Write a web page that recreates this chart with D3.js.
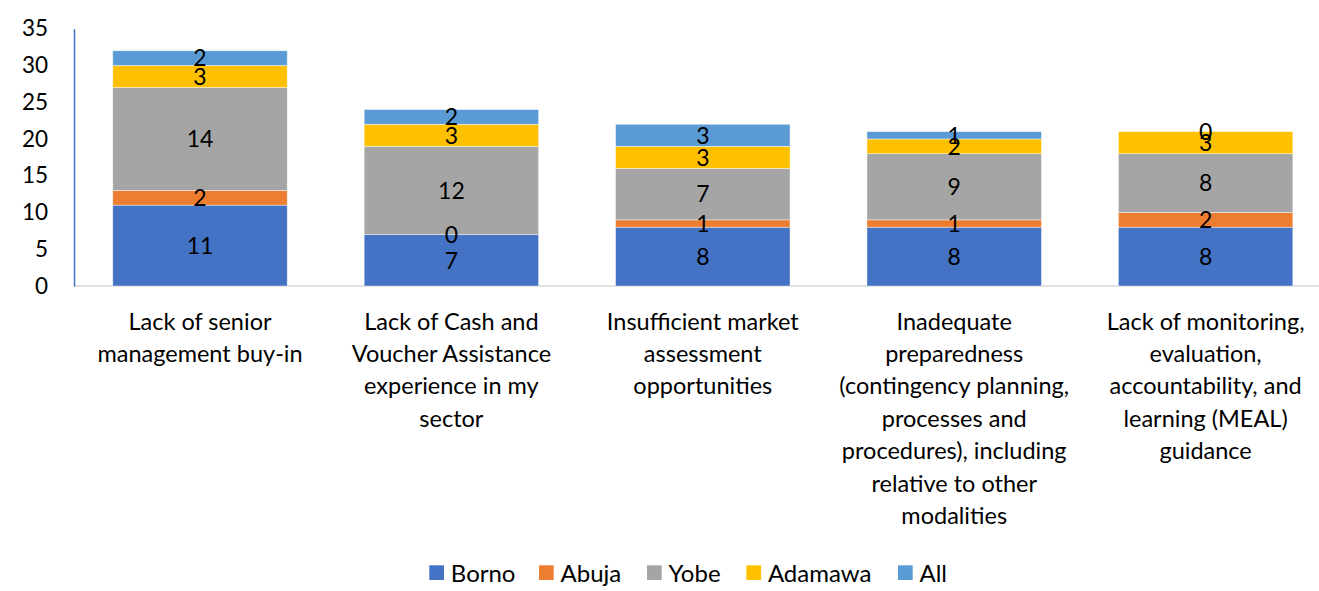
<!DOCTYPE html>
<html><head><meta charset="utf-8">
<script src="https://cdn.jsdelivr.net/npm/d3@7"></script>
<style>body{margin:0;background:#fff}svg{display:block}text{font-family:Lato,"Open Sans",sans-serif;fill:#000}</style>
</head><body><svg id="c" width="1319" height="591"></svg>
<script>
const categories = [
  ["Lack of senior", "management buy-in"],
  ["Lack of Cash and", "Voucher Assistance", "experience in my", "sector"],
  ["Insufficient market", "assessment", "opportunities"],
  ["Inadequate", "preparedness", "(contingency planning,", "processes and", "procedures), including", "relative to other", "modalities"],
  ["Lack of monitoring,", "evaluation,", "accountability, and", "learning (MEAL)", "guidance"]
];
const seriesNames = ["Borno", "Abuja", "Yobe", "Adamawa", "All"];
const borno   = [11, 7, 8, 8, 8];
const abuja   = [2, 0, 1, 1, 2];
const yobe    = [14, 12, 7, 9, 8];
const adamawa = [3, 3, 3, 2, 3];
const all     = [2, 2, 3, 1, 0];
const yTicks  = [0, 5, 10, 15, 20, 25, 30, 35];
const colors  = ["#4472C4", "#ED7D31", "#A5A5A5", "#FFC000", "#5B9BD5"];

const seriesValues = [borno, abuja, yobe, adamawa, all];
const rows = categories.map((c, i) => {
  const r = {key: i};
  seriesNames.forEach((s, j) => r[s] = seriesValues[j][i]);
  return r;
});
const stack = d3.stack().keys(seriesNames)(rows);

const svg = d3.select("#c");
const mLeft = 74, mRight = 1319, mTop = 28.7, mBottom = 286;
const x = d3.scaleBand().domain(rows.map(r => r.key)).range([74.3, 1331.3]).paddingInner(0.306).paddingOuter(0.153);
const y = d3.scaleLinear().domain([0, 35]).range([mBottom, mTop]);

// baseline
svg.append("line").attr("x1", mLeft).attr("x2", mRight).attr("y1", mBottom).attr("y2", mBottom)
  .attr("stroke", "#D9D9D9").attr("stroke-width", 1.5);

// bars
const g = svg.append("g");
stack.forEach((layer, si) => {
  g.selectAll(null).data(layer).join("rect")
    .attr("x", (d, i) => x(i)).attr("width", x.bandwidth())
    .attr("y", d => y(d[1])).attr("height", d => y(d[0]) - y(d[1]))
    .attr("fill", colors[si]).attr("stroke", "#fff").attr("stroke-width", 0.7).attr("stroke-opacity", 0.6);
});
stack.forEach((layer, si) => {
  g.selectAll(null).data(layer).join("text")
    .attr("x", (d, i) => x(i) + x.bandwidth() / 2)
    .attr("y", d => (y(d[0]) + y(d[1])) / 2)
    .attr("dy", "0.36em").attr("text-anchor", "middle").style("font-size", "23px")
    .text(d => d[1] - d[0]);
});

// y axis
const ya = svg.append("g").attr("transform", `translate(${mLeft},0)`)
  .call(d3.axisLeft(y).tickValues(yTicks).tickSize(0).tickPadding(26));
ya.select(".domain").attr("stroke", "#4472C4").attr("stroke-width", 1.5);
ya.selectAll("text").style("font-size", "22.5px").style("font-family", "Lato,sans-serif").attr("fill", "#000");

// category labels
const xa = svg.append("g").attr("transform", `translate(0,${mBottom})`)
  .call(d3.axisBottom(x).tickSize(0).tickFormat(""));
xa.select(".domain").remove();
xa.selectAll(".tick").each(function(d) {
  const t = d3.select(this).append("text").attr("text-anchor", "middle").attr("y", 43.5).style("font-size", "23.5px");
  categories[d].forEach((ln, k) => t.append("tspan").attr("x", 0).attr("dy", k === 0 ? 0 : 32.4).text(ln));
});

// legend
const legendX = [429.3, 539, 647, 746.4, 898];
const lg = svg.append("g");
seriesNames.forEach((s, i) => {
  lg.append("rect").attr("x", legendX[i]).attr("y", 565.3).attr("width", 14.7).attr("height", 14.7).attr("fill", colors[i]);
  lg.append("text").attr("x", legendX[i] + 21.5).attr("y", 573).attr("dy", "0.36em").style("font-size", "24px").text(s);
});
</script></body></html>
